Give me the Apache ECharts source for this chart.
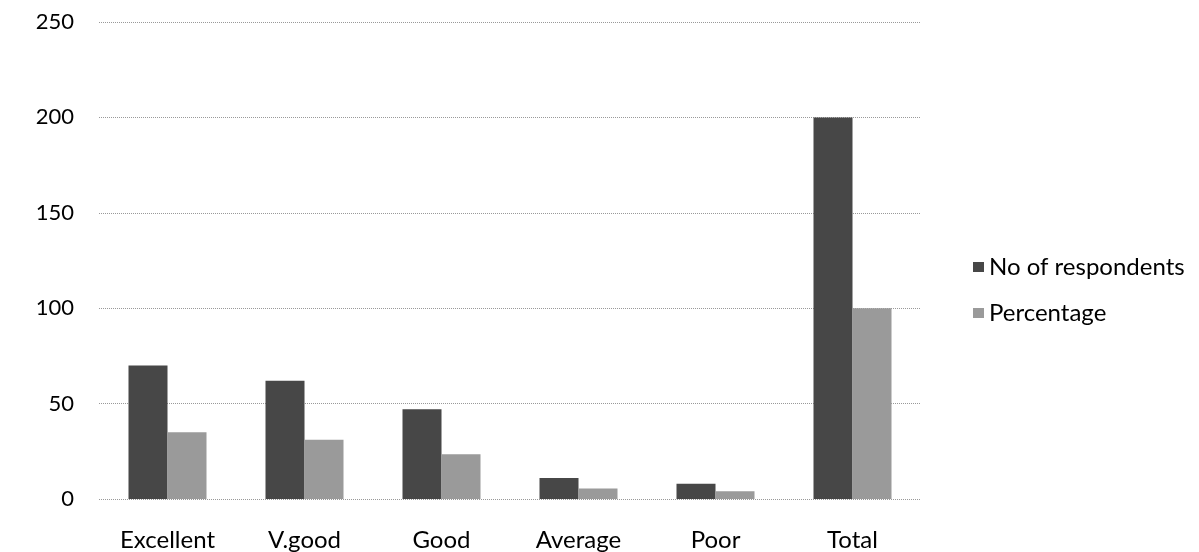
<!DOCTYPE html>
<html>
<head>
<meta charset="utf-8">
<script src="https://cdn.jsdelivr.net/npm/echarts@6/dist/echarts.min.js"></script>
<style>
html,body{margin:0;padding:0;background:#fff;}
#chart{width:1199px;height:552px;}
</style>
</head>
<body>
<div id="chart"></div>
<script>
const categories = ['Excellent', 'V.good', 'Good', 'Average', 'Poor', 'Total'];
const respondents = [70, 62, 47, 11, 8, 200];
const percentage = [35, 31, 23.5, 5.5, 4, 100];
const seriesNames = ['No of respondents', 'Percentage'];

const font = 'Lato, "Open Sans", sans-serif';
const chart = echarts.init(document.getElementById('chart'));
chart.setOption({
  animation: false,
  backgroundColor: '#fff',
  grid: { left: 99, right: 278, top: 22, bottom: 53, containLabel: false },
  legend: {
    orient: 'vertical',
    left: 968,
    top: 250,
    itemWidth: 11,
    itemHeight: 10,
    itemGap: 22,
    icon: 'rect',
    textStyle: { fontFamily: font, fontSize: 24, lineHeight: 24, color: '#000' },
    data: seriesNames
  },
  xAxis: {
    type: 'category',
    data: categories,
    axisLine: { show: false },
    axisTick: { show: false },
    axisLabel: { fontFamily: font, fontSize: 24, color: '#000', margin: 29 }
  },
  yAxis: {
    type: 'value',
    min: 0, max: 250, interval: 50,
    axisLine: { show: false },
    axisTick: { show: false },
    axisLabel: { fontFamily: font, fontSize: 22, color: '#000', margin: 25 },
    splitLine: { lineStyle: { type: 'dotted', color: '#999', width: 1 } }
  },
  series: [
    {
      name: seriesNames[0], type: 'bar', data: respondents,
      barWidth: 39, barGap: '0%',
      itemStyle: { color: '#474747' }
    },
    {
      name: seriesNames[1], type: 'bar', data: percentage,
      barWidth: 39,
      itemStyle: { color: '#9a9a9a' }
    }
  ]
});
</script>
</body>
</html>
